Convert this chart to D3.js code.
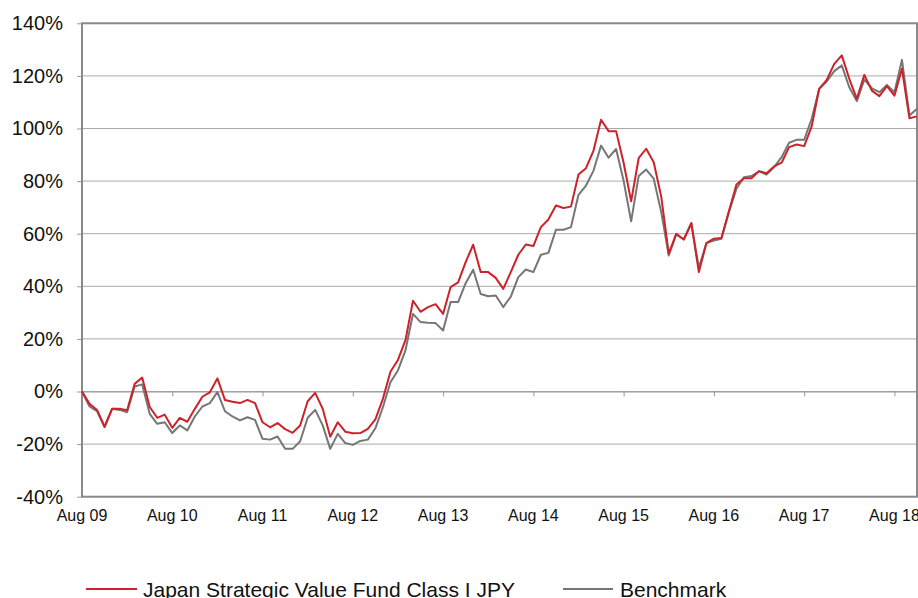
<!DOCTYPE html>
<html>
<head>
<meta charset="utf-8">
<script src="https://cdn.jsdelivr.net/npm/d3@7"></script>
<style>
  body { margin: 0; background: #fff; }
  svg { display: block; font-family: "Liberation Sans", Arial, sans-serif; }
</style>
</head>
<body>
<div id="chart"></div>
<script>
// Monthly cumulative performance (%), Aug 2009 onwards
const fundValues = [
    0, -4.7, -7.0, -13.4, -6.6, -6.6, -7.1, 2.9, 5.3, -5.9, -10.0, -8.8,
    -13.8, -10.0, -11.5, -6.6, -2.0, -0.3, 5.0, -3.2, -3.9, -4.4, -3.2, -4.4,
    -11.7, -13.6, -12.0, -14.3, -15.7, -12.9, -3.7, -0.5, -6.6, -17.2, -11.7, -15.3,
    -15.9, -15.8, -14.2, -10.6, -2.8, 7.5, 12.0, 19.5, 34.5, 30.3, 32.1, 33.2,
    29.5, 39.7, 41.5, 49.2, 55.8, 45.4, 45.4, 43.2, 39.0, 45.4, 52.0, 55.9,
    55.3, 62.5, 65.4, 70.7, 69.8, 70.3, 82.5, 84.9, 91.6, 103.3, 99.0, 99.0,
    87.0, 72.3, 88.7, 92.3, 87.2, 74.1, 52.4, 60.0, 57.8, 64.1, 45.4, 56.4,
    58.1, 58.4, 68.6, 78.7, 81.1, 81.1, 83.8, 83.0, 85.6, 87.0, 92.9, 93.9,
    93.3, 100.8, 115.1, 118.5, 124.6, 127.8, 118.9, 111.3, 120.4, 114.4, 112.3, 116.1,
    112.5, 122.7, 103.9, 104.6
];
const benchmarkValues = [
    0, -5.7, -7.5, -13.5, -6.6, -7.0, -7.9, 1.9, 2.7, -8.5, -12.3, -11.7,
    -15.8, -12.9, -14.8, -9.5, -5.7, -4.4, -0.2, -7.5, -9.5, -11.0, -9.8, -10.8,
    -18.0, -18.3, -17.1, -21.8, -21.8, -18.9, -10.0, -7.0, -12.9, -21.8, -16.1, -19.6,
    -20.3, -18.8, -18.3, -14.0, -6.0, 3.5, 8.0, 15.6, 29.5, 26.4, 26.1, 26.0,
    23.2, 34.0, 34.0, 41.2, 46.3, 37.1, 36.2, 36.5, 32.1, 36.1, 43.5, 46.4,
    45.4, 52.0, 52.7, 61.5, 61.5, 62.5, 74.8, 78.3, 84.0, 93.5, 88.9, 92.2,
    80.1, 64.7, 81.9, 84.4, 80.9, 68.2, 51.7, 59.7, 57.8, 63.8, 47.0, 56.4,
    57.4, 58.1, 68.2, 77.1, 81.5, 81.9, 83.7, 82.5, 85.3, 89.1, 94.6, 95.7,
    95.7, 103.7, 115.1, 117.9, 121.8, 124.0, 115.7, 110.4, 118.6, 115.3, 113.8, 116.6,
    113.8, 126.1, 104.9, 107.5
];
const xTickLabels = ['Aug 09', 'Aug 10', 'Aug 11', 'Aug 12', 'Aug 13',
                     'Aug 14', 'Aug 15', 'Aug 16', 'Aug 17', 'Aug 18'];
const yTicks = [-40, -20, 0, 20, 40, 60, 80, 100, 120, 140];
const seriesNames = ['Japan Strategic Value Fund Class I JPY', 'Benchmark'];
const seriesColors = ['#cc2229', '#767676'];

const W = 918, H = 598;
const plot = { left: 82, right: 917, top: 23.3, bottom: 496.7 };

const svg = d3.select('#chart').append('svg')
    .attr('width', W)
    .attr('height', H);

const x = d3.scaleLinear()
    .domain([0, fundValues.length - 1])
    .range([plot.left, plot.right]);

const y = d3.scaleLinear()
    .domain([-40, 140])
    .range([plot.bottom, plot.top]);

// gridlines
svg.append('g')
    .selectAll('line')
    .data(yTicks)
    .enter()
    .append('line')
    .attr('x1', plot.left)
    .attr('x2', plot.right)
    .attr('y1', d => y(d))
    .attr('y2', d => y(d))
    .attr('stroke', '#ababab')
    .attr('stroke-width', 1);

// y axis labels + ticks
const yAxis = svg.append('g')
    .attr('transform', `translate(${plot.left},0)`)
    .call(d3.axisLeft(y).tickValues(yTicks).tickSize(5).tickPadding(14)
        .tickFormat(d => d + '%'));
yAxis.select('.domain').remove();
yAxis.selectAll('line').attr('stroke', '#999');
yAxis.selectAll('text')
    .attr('fill', '#111')
    .style('font-size', '20px')
    .style('font-family', '"Liberation Sans", Arial, sans-serif');

// category axis crosses at 0%, labels sit low
const xTickIdx = xTickLabels.map((d, i) => i * 12);
const xAxis = svg.append('g')
    .attr('transform', `translate(0,${y(0)})`)
    .call(d3.axisBottom(x).tickValues(xTickIdx).tickSize(5).tickFormat(''));
xAxis.select('.domain').attr('stroke', '#999');
xAxis.selectAll('line').attr('stroke', '#999');

svg.append('g')
    .selectAll('text')
    .data(xTickLabels)
    .enter()
    .append('text')
    .attr('x', (d, i) => x(xTickIdx[i]))
    .attr('y', 521)
    .attr('text-anchor', 'middle')
    .style('font-size', '16px')
    .attr('fill', '#111')
    .text(d => d);

// plot area border
svg.append('rect')
    .attr('x', plot.left)
    .attr('y', plot.top)
    .attr('width', plot.right - plot.left)
    .attr('height', plot.bottom - plot.top)
    .attr('fill', 'none')
    .attr('stroke', '#8a8a8a')
    .attr('stroke-width', 2);

// lines (benchmark under fund)
const line = d3.line()
    .x((d, i) => x(i))
    .y(d => y(d));

[benchmarkValues, fundValues].forEach((vals, k) => {
    svg.append('path')
        .datum(vals)
        .attr('d', line)
        .attr('fill', 'none')
        .attr('stroke', seriesColors[1 - k])
        .attr('stroke-width', 2)
        .attr('stroke-linejoin', 'round');
});

// legend
const legendItems = [
    { name: seriesNames[0], color: seriesColors[0], x1: 86, x2: 137, tx: 143 },
    { name: seriesNames[1], color: seriesColors[1], x1: 563, x2: 613, tx: 620 }
];
const legend = svg.append('g');
legendItems.forEach(d => {
    legend.append('line')
        .attr('x1', d.x1).attr('x2', d.x2)
        .attr('y1', 589).attr('y2', 589)
        .attr('stroke', d.color)
        .attr('stroke-width', 2);
    legend.append('text')
        .attr('x', d.tx)
        .attr('y', 597)
        .style('font-size', '21px')
        .attr('fill', '#111')
        .text(d.name);
});
</script>
</body>
</html>
